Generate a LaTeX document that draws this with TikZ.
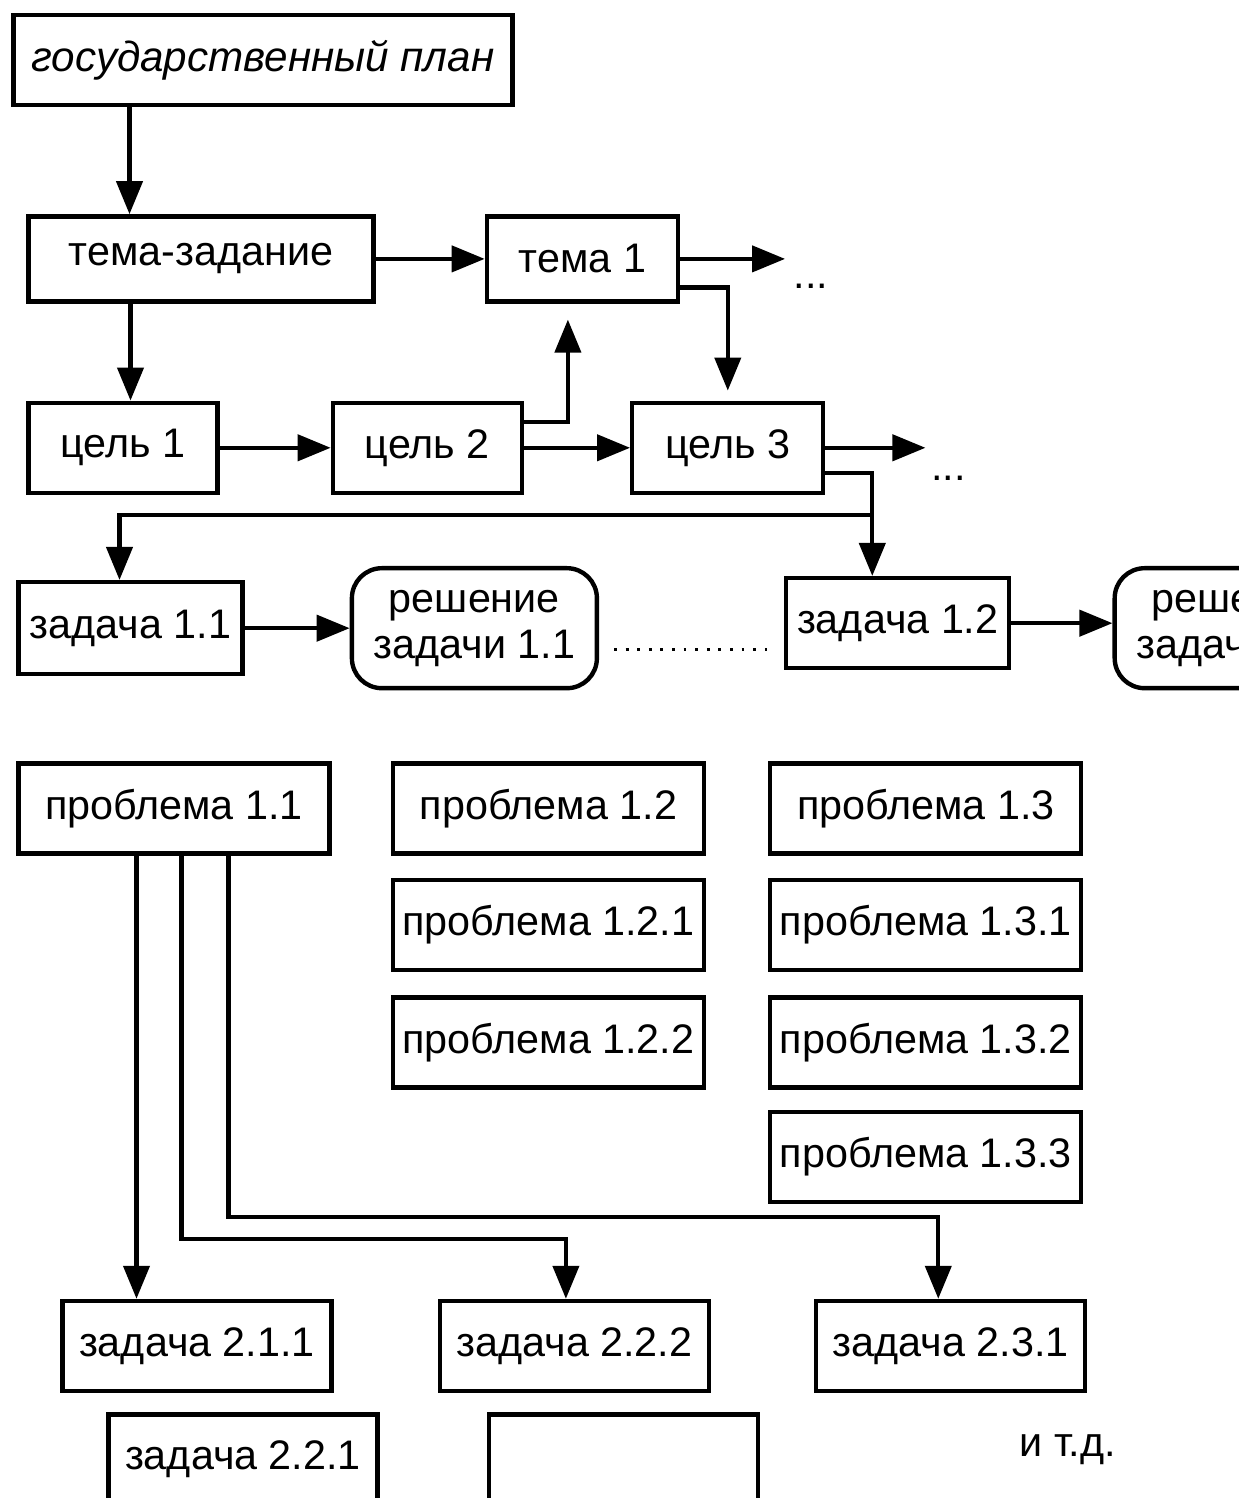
\documentclass[tikz,border=0pt]{standalone}
\usepackage{fontspec}
\setmainfont{Liberation Sans}
\usetikzlibrary{arrows.meta, positioning}

\begin{document}
\begin{tikzpicture}[
  node distance=1cm and 2cm,
  box/.style={rectangle, draw, line width=2.5pt, minimum height=1.8cm,
              inner sep=0pt, align=center},
  solbox/.style={box, rounded corners=0.6cm, minimum width=4.9cm, minimum height=2.4cm},
  probbox/.style={box, minimum width=6.22cm},
  taskbox/.style={box, minimum width=5.38cm},
  arr/.style={-{Triangle[length=0.66cm, width=0.52cm]}, line width=2.4pt},
  dotline/.style={line width=1.6pt, dash pattern=on 1.6pt off 5pt},
  font=\fontsize{23.5}{26}\selectfont,
]
\useasboundingbox (0,0) rectangle (24.78,-29.96);
\clip (0,0) rectangle (24.78,-29.96);

% plan and themes
\node[box, minimum width=9.98cm, font=\fontsize{24}{26}\selectfont\itshape] (plan) at (5.26,-1.2)
  {государственный план};
\node[box, minimum width=6.9cm, minimum height=1.7cm, below=2.14cm of plan.south west,
      anchor=north west, xshift=0.3cm] (temaz) {тема-задание};
\node[box, minimum width=3.82cm, minimum height=1.7cm, right=2.18cm of temaz] (tema1) {тема 1};

% goals
\node[box, minimum width=3.78cm, below=1.94cm of temaz.south west, anchor=north west] (c1) {цель 1};
\node[box, minimum width=3.78cm, right=2.22cm of c1] (c2) {цель 2};
\node[box, minimum width=3.82cm, right=2.12cm of c2] (c3) {цель 3};

% tasks and solutions
\node[box, minimum width=4.48cm, minimum height=1.84cm, below=1.70cm of c1.south west,
      anchor=north west, xshift=-0.2cm] (z11) {задача 1.1};
\node[solbox, right=2.1cm of z11] (r11) {решение\\задачи 1.1};
\node[box, minimum width=4.46cm, right=3.7cm of r11, yshift=0.1cm] (z12) {задача 1.2};
\node[solbox, right=2.02cm of z12, yshift=-0.1cm] (r12) {решение\\задачи 1.2};

% problems
\node[probbox, below=1.70cm of z11.south west, anchor=north west] (p11) {проблема 1.1};
\node[probbox, right=1.18cm of p11] (p12) {проблема 1.2};
\node[probbox, right=1.24cm of p12] (p13) {проблема 1.3};
\node[probbox, below=0.44cm of p12] (p121) {проблема 1.2.1};
\node[probbox, below=0.46cm of p121] (p122) {проблема 1.2.2};
\node[probbox, below=0.44cm of p13] (p131) {проблема 1.3.1};
\node[probbox, below=0.46cm of p131] (p132) {проблема 1.3.2};
\node[probbox, below=0.4cm of p132] (p133) {проблема 1.3.3};

% subtasks
\node[taskbox, below=8.86cm of p11.south west, anchor=north west, xshift=0.88cm] (z211) {задача 2.1.1};
\node[taskbox, right=2.08cm of z211] (z222) {задача 2.2.2};
\node[taskbox, right=2.06cm of z222] (z231) {задача 2.3.1};
\node[taskbox, below=0.38cm of z211.south west, anchor=north west, xshift=0.92cm] (z221) {задача 2.2.1};
\node[taskbox, right=2.14cm of z221] (blank) {};
\node (etc) at ([xshift=8.89cm, yshift=0.19cm]blank) {и т.д.};

% free ends and entry points
\coordinate (t1end) at ([xshift=2.1cm]tema1.east);
\coordinate (c3end) at ([xshift=2.0cm]c3.east);
\node[anchor=base, inner sep=0pt] (dots1) at ([xshift=0.52cm, yshift=-0.6cm]t1end) {...};
\node[anchor=base, inner sep=0pt] (dots2) at ([xshift=0.46cm, yshift=-0.66cm]c3end) {...};
\coordinate (tzin) at ([xshift=-1.43cm]temaz.north);
\coordinate (c1in) at ([xshift=0.15cm]c1.north);
\coordinate (t1in) at ([xshift=-0.29cm, yshift=-0.32cm]tema1.south);
\coordinate (c3out) at ([yshift=-0.51cm]c3.east);
\coordinate (cut) at ([yshift=-0.4cm]c3.south);
\coordinate (z11in) at ([xshift=-0.22cm]z11.north);
\coordinate (z12in) at ([xshift=-0.51cm]z12.north);
\coordinate (z211in) at ([xshift=-1.21cm]z211.north);
\coordinate (z222in) at ([xshift=-0.17cm]z222.north);
\coordinate (z231in) at ([xshift=-0.25cm]z231.north);

\draw[arr] (plan.south -| tzin) -- (tzin);
\draw[arr] (temaz) -- (tema1);
\draw[arr] (tema1) -- (t1end);
\draw[arr] (temaz.south -| c1in) -- (c1in);
\draw[arr] (c1) -- (c2);
\draw[arr] (c2) -- (c3);
\draw[arr] (c3) -- (c3end);
\draw[arr] ([yshift=0.51cm]c2.east) -| (t1in);
\draw[arr, shorten >=0.2cm] ([yshift=-0.57cm]tema1.east) -| (c3.north);
\draw[arr] (c3out) -| (z12in);
\draw[arr] (z12in |- cut) -| (z11in);
\draw[arr] (z11) -- (r11);
\draw[arr] (z12.east) -- (z12.east -| r12.west);
\draw[dotline, shorten <=0.3cm, shorten >=0.34cm] ([yshift=-0.43cm]r11.east)
  -- ([yshift=-0.43cm]r11.east -| z12.west);
\draw[arr] (p11.south -| z211in) -- (z211in);
\draw[arr] ([xshift=0.15cm]p11.south) |- ([yshift=1.2cm]z222in) -- (z222in);
\draw[arr] ([xshift=1.09cm]p11.south) |- ([yshift=1.64cm]z231in) -- (z231in);
\end{tikzpicture}
\end{document}
